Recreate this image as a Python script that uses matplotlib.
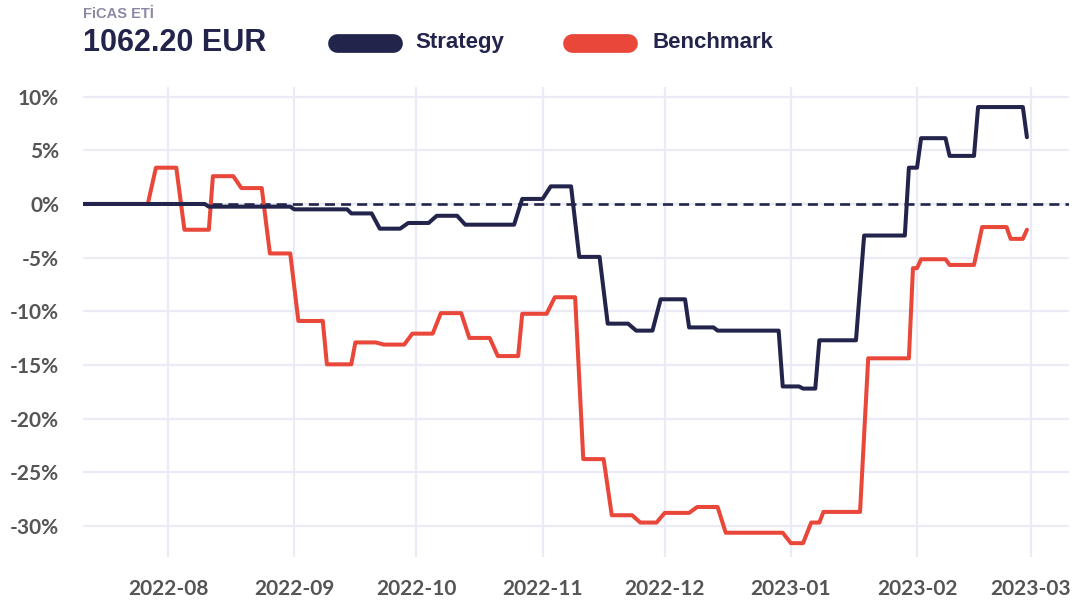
import numpy as np
import pandas as pd
import matplotlib
matplotlib.use("Agg")
import matplotlib.pyplot as plt
import matplotlib.dates as mdates
from matplotlib.lines import Line2D
from matplotlib.ticker import FuncFormatter

# flat weekly levels (segment start, segment end, % return)
strat_start = ["2022-07-11", "2022-08-11", "2022-09-01", "2022-09-15", "2022-09-22", "2022-09-29",
               "2022-10-06", "2022-10-13", "2022-10-27", "2022-11-03", "2022-11-10", "2022-11-17",
               "2022-11-24", "2022-11-30", "2022-12-07", "2022-12-14", "2022-12-30", "2023-01-04",
               "2023-01-08", "2023-01-19", "2023-01-30", "2023-02-02", "2023-02-09", "2023-02-16"]
strat_end = ["2022-08-10", "2022-08-31", "2022-09-14", "2022-09-20", "2022-09-27", "2022-10-04",
             "2022-10-11", "2022-10-25", "2022-11-01", "2022-11-08", "2022-11-15", "2022-11-22",
             "2022-11-28", "2022-12-06", "2022-12-13", "2022-12-29", "2023-01-03", "2023-01-07",
             "2023-01-17", "2023-01-29", "2023-02-01", "2023-02-08", "2023-02-15", "2023-02-27"]
strat_vals = [0.0, -0.25, -0.5, -0.88, -2.3, -1.77, -1.1, -1.93, 0.47, 1.64, -4.93, -11.15,
              -11.8, -8.88, -11.5, -11.8, -17.0, -17.2, -12.7, -2.94, 3.38, 6.13, 4.48, 9.03]
strat_last = ("2023-02-28", 6.22)

bench_start = ["2022-07-11", "2022-07-29", "2022-08-05", "2022-08-12", "2022-08-19", "2022-08-26",
               "2022-09-02", "2022-09-09", "2022-09-16", "2022-09-23", "2022-09-30", "2022-10-07",
               "2022-10-14", "2022-10-21", "2022-10-27", "2022-11-04", "2022-11-11", "2022-11-18",
               "2022-11-25", "2022-12-01", "2022-12-09", "2022-12-16", "2023-01-01", "2023-01-06",
               "2023-01-09", "2023-01-20", "2023-01-31", "2023-02-02", "2023-02-09", "2023-02-17",
               "2023-02-24"]
bench_end = ["2022-07-27", "2022-08-03", "2022-08-11", "2022-08-17", "2022-08-24", "2022-08-31",
             "2022-09-08", "2022-09-15", "2022-09-21", "2022-09-28", "2022-10-05", "2022-10-12",
             "2022-10-19", "2022-10-26", "2022-11-02", "2022-11-09", "2022-11-16", "2022-11-23",
             "2022-11-29", "2022-12-07", "2022-12-14", "2022-12-30", "2023-01-04", "2023-01-08",
             "2023-01-18", "2023-01-30", "2023-02-01", "2023-02-08", "2023-02-15", "2023-02-23",
             "2023-02-27"]
bench_vals = [0.0, 3.38, -2.4, 2.59, 1.48, -4.61, -10.9, -14.94, -12.9, -13.1, -12.08, -10.17,
              -12.48, -14.17, -10.23, -8.69, -23.77, -29.0, -29.68, -28.78, -28.23, -30.63,
              -31.6, -29.68, -28.69, -14.38, -5.98, -5.15, -5.68, -2.15, -3.25]
bench_last = ("2023-02-28", -2.4)

yticks = [10, 5, 0, -5, -10, -15, -20, -25, -30]

NAVY = "#23244b"
RED = "#e9473a"
GRID = "#ebebf6"
TICK = "#555555"


def path(starts, ends, vals, last):
    xs, ys = [], []
    for s, e, v in zip(starts, ends, vals):
        xs += [s, e]
        ys += [v, v]
    xs.append(last[0])
    ys.append(last[1])
    return pd.to_datetime(xs), ys


fig = plt.figure(figsize=(10.75, 6), dpi=100)
ax = fig.add_axes([0.0769, 0.0722, 0.9175, 0.7823])

ax.axhline(0, color=NAVY, lw=1.9, dashes=(3.8, 2.3), zorder=2)
bx, by = path(bench_start, bench_end, bench_vals, bench_last)
ax.plot(bx, by, color=RED, lw=2.9, solid_joinstyle="round", solid_capstyle="round", zorder=3)
sx, sy = path(strat_start, strat_end, strat_vals, strat_last)
ax.plot(sx, sy, color=NAVY, lw=2.9, solid_joinstyle="round", solid_capstyle="round", zorder=4)

ax.set_xlim(pd.Timestamp("2022-07-11"), pd.Timestamp("2023-03-10 08:00"))
ax.set_ylim(-32.86, 10.87)
ax.set_yticks(yticks)
ax.yaxis.set_major_formatter(FuncFormatter(lambda v, p: "%d%%" % v))
ax.xaxis.set_major_locator(mdates.MonthLocator())
ax.xaxis.set_major_formatter(mdates.DateFormatter("%Y-%m"))

ax.grid(True, color=GRID, lw=1.6, zorder=0)
ax.set_axisbelow(True)
for sp in ax.spines.values():
    sp.set_visible(False)
ax.tick_params(axis="both", length=0, labelsize=15, labelcolor=TICK)
ax.tick_params(axis="y", pad=17)
ax.tick_params(axis="x", pad=16)
for lab in ax.get_xticklabels() + ax.get_yticklabels():
    lab.set_fontfamily("Lato")
    lab.set_fontweight("bold")

# header
fig.text(0.0772, 0.976, "FiCAS ETİ", fontsize=10.5, fontweight="bold", color="#8b89a3",
         family=["Liberation Sans", "DejaVu Sans"], va="center")
fig.text(0.0772, 0.929, "1062.20 EUR", fontsize=22, fontweight="bold", color=NAVY,
         family="Liberation Sans", va="center")
fig.add_artist(Line2D([337 / 1075, 393 / 1075], [0.929, 0.929], transform=fig.transFigure,
                      color=NAVY, lw=13.5, solid_capstyle="round"))
fig.text(415 / 1075, 0.929, "Strategy", fontsize=16, fontweight="bold", color=NAVY,
         family="Liberation Sans", va="center")
fig.add_artist(Line2D([572 / 1075, 628 / 1075], [0.929, 0.929], transform=fig.transFigure,
                      color=RED, lw=13.5, solid_capstyle="round"))
fig.text(652 / 1075, 0.929, "Benchmark", fontsize=16, fontweight="bold", color=NAVY,
         family="Liberation Sans", va="center")

fig.savefig("out.png", dpi=100, facecolor="white")
